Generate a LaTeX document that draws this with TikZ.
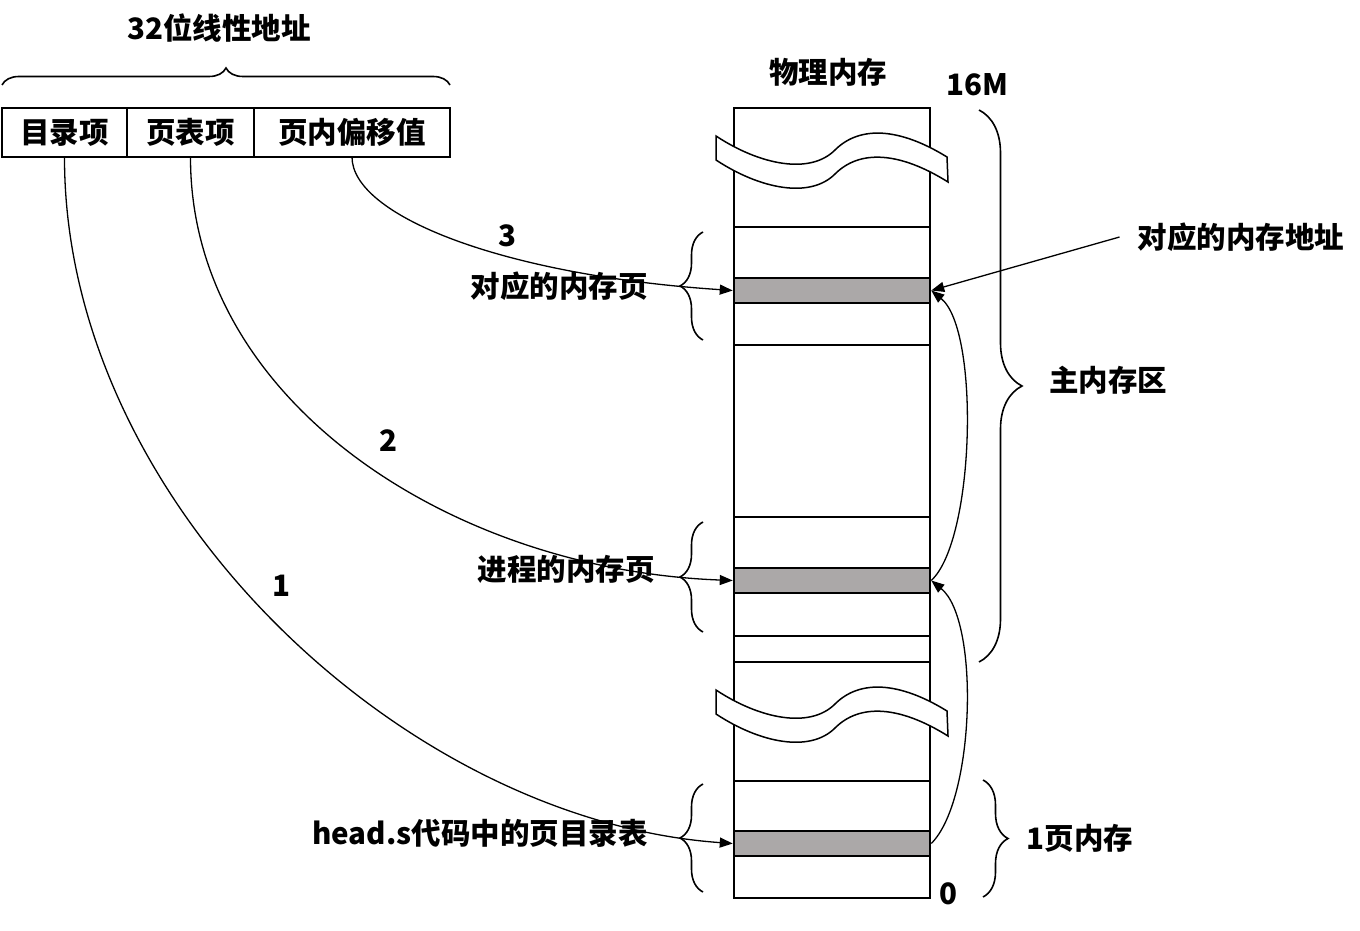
\documentclass[tikz,border=0pt]{standalone}
\usepackage{fontspec}
\setmainfont{Noto Sans CJK SC}
\usetikzlibrary{arrows.meta,decorations.pathreplacing}
\definecolor{bandgray}{RGB}{171,168,168}
\begin{document}
\begin{tikzpicture}[x=1pt,y=-1pt,
  lbl/.style={font=\bfseries\fontsize{29.5}{32}\selectfont, inner sep=0pt},
  cell/.style={draw, line width=2pt, minimum height=49pt, inner sep=0pt, outer sep=0pt, anchor=west,
    font=\bfseries\fontsize{29.5}{32}\selectfont},
  band/.style={draw, line width=2.5pt, fill=bandgray, minimum width=196pt, minimum height=25pt, inner sep=0pt},
  conn/.style={line width=1.3pt, -{Triangle[length=13pt,width=10pt]}},
  brc/.style={line width=1.6pt, decorate, decoration={brace, amplitude=#1}},
  wave/.style={draw, fill=white, line width=1.5pt},
  sep/.style={line width=2.5pt}
]
\useasboundingbox (0,0) rectangle (1360,931);

% address box
\node[cell, minimum width=125pt] (d) at (2,132.5) {目录项};
\node[cell, minimum width=127pt] (t) at (d.east) {页表项};
\node[cell, minimum width=196pt] (o) at (t.east) {页内偏移值};
\draw[brc=17pt] (2,85) -- (450,85);
\node[lbl] (title) at (219,28) {32位线性地址};

% memory column
\node[draw, line width=2.5pt, minimum width=196pt, minimum height=790pt, inner sep=0pt] (mem) at (832,503) {};
\draw[sep] (734,227) -- (930,227);
\draw[sep] (734,345) -- (930,345);
\draw[sep] (734,517) -- (930,517);
\draw[sep] (734,636) -- (930,636);
\draw[sep] (734,662) -- (930,662);
\draw[sep] (734,781) -- (930,781);
\node[band] (b1) at (832,290.5) {};
\node[band] (b2) at (832,580.5) {};
\node[band] (b3) at (832,843.5) {};

% breaks
\foreach \yy in {136,690} {
\path[wave, shift={(716,\yy)}] (0,0) .. controls (44,29) and (94,39) .. (119,14)
  .. controls (144,-11) and (184,-8) .. (231,21) -- (232,46)
  .. controls (184,16) and (144,13) .. (119,38)
  .. controls (94,63) and (44,53) .. (0,24) -- cycle;
}

% braces
\draw[brc=23pt] (703,340) -- (703,232);
\draw[brc=23pt] (703,632) -- (703,522);
\draw[brc=23pt] (703,892) -- (703,784);
\draw[brc=43pt] (979,110) -- (979,662);
\draw[brc=25pt] (983,780) -- (983,897);

% labels
\node[lbl] (phys) at (828,72) {物理内存};
\node[lbl] (m16) at (977,85) {16M};
\node[lbl] (zero) at (948,894) {0};
\node[lbl, inner xsep=18pt] (addr) at (1241,237) {对应的内存地址};
\node[lbl] (main) at (1108,380) {主内存区};
\node[lbl] (onep) at (1080,838) {1页内存};
\node[lbl] (n3) at (507,236) {3};
\node[lbl] (l3) at (559,286) {对应的内存页};
\node[lbl] (n2) at (388,441) {2};
\node[lbl] (l2) at (566,569) {进程的内存页};
\node[lbl] (n1) at (281,586) {1};
\node[lbl] (l1) at (480,833) {head.s代码中的页目录表};

% connectors
\draw[conn] (d.south) .. controls (64,500) and (400,820) .. (b3.west);
\draw[conn] (t.south) .. controls (190,400) and (450,570) .. (b2.west);
\draw[conn] (o.south) .. controls (352,215) and (500,275) .. (b1.west);
\draw[conn] (addr.west) -- (b1.east);
\draw[conn] (b2.east) .. controls (975,540) and (980,330) .. (b1.east);
\draw[conn] (b3.east) .. controls (975,800) and (980,620) .. (b2.east);
\end{tikzpicture}
\end{document}
